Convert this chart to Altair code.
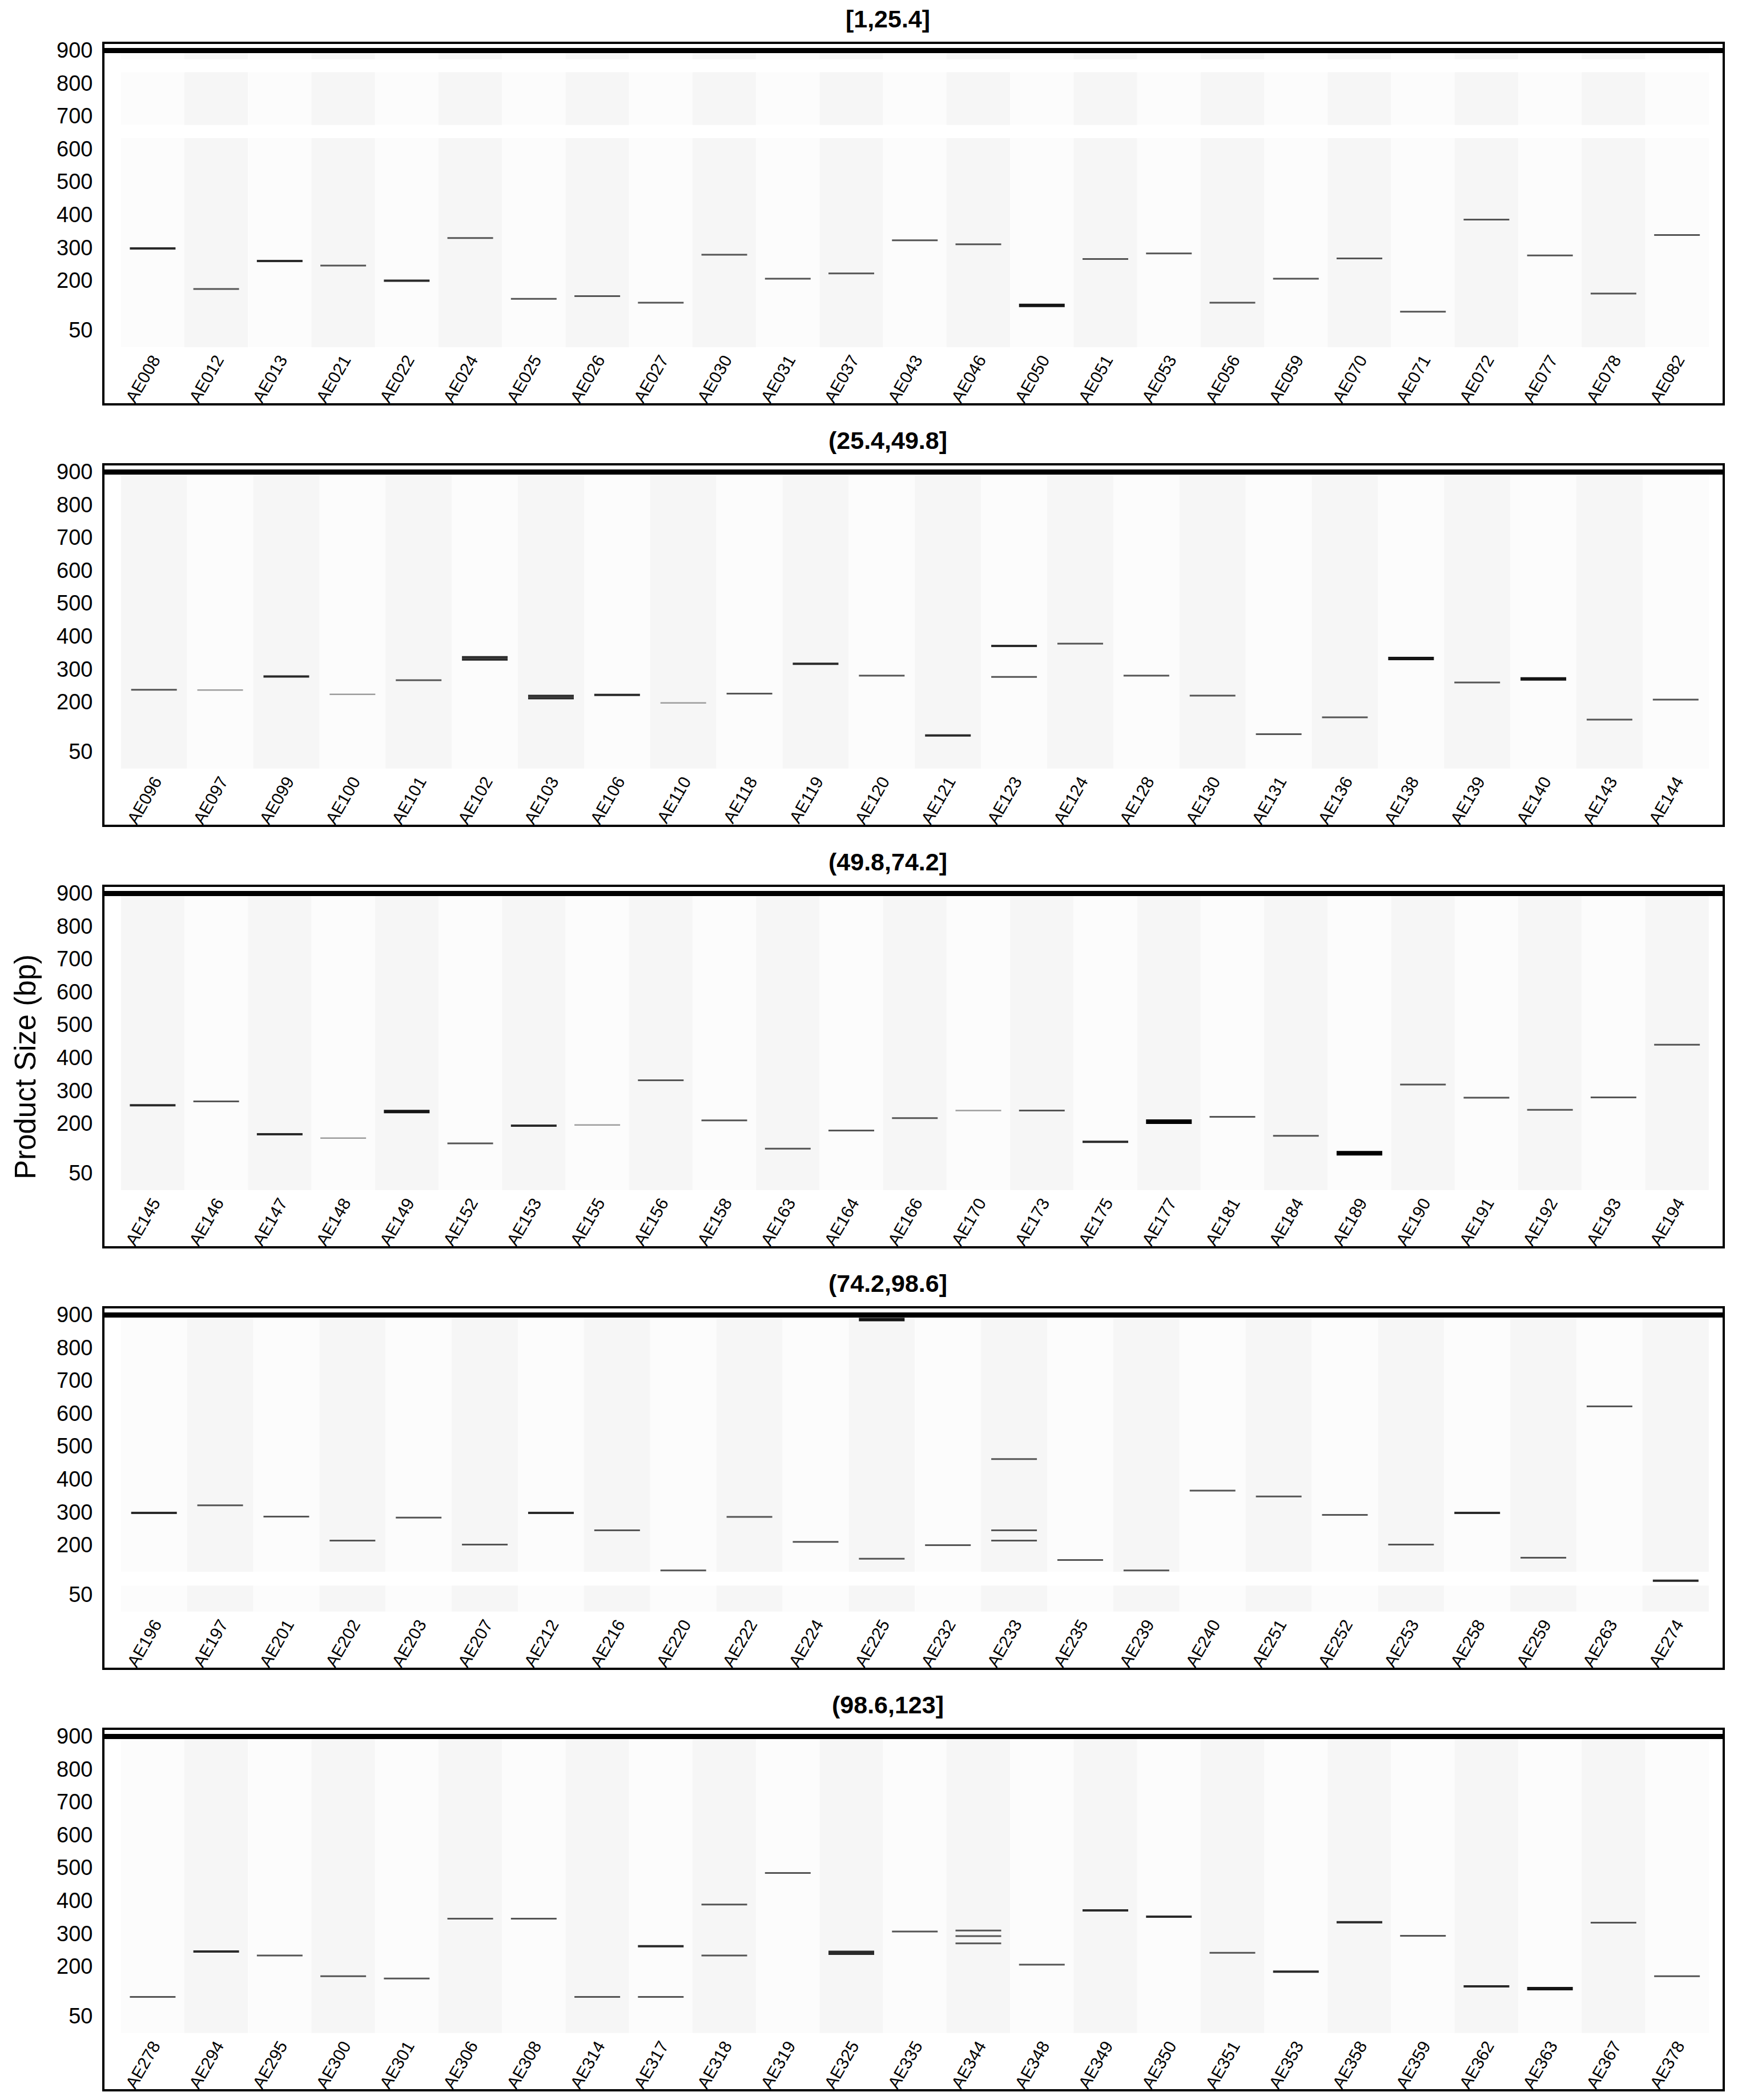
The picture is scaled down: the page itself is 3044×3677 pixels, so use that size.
import altair as alt
import pandas as pd

# ---------------- data ----------------
panel_titles = ["[1,25.4]", "(25.4,49.8]", "(49.8,74.2]", "(74.2,98.6]", "(98.6,123]"]

lanes_1 = ["AE008", "AE012", "AE013", "AE021", "AE022", "AE024", "AE025", "AE026", "AE027", "AE030",
           "AE031", "AE037", "AE043", "AE046", "AE050", "AE051", "AE053", "AE056", "AE059", "AE070",
           "AE071", "AE072", "AE077", "AE078", "AE082"]
size_1 = [[300], [177], [262], [248], [202], [332], [147], [155], [135], [281],
          [208], [224], [325], [313], [127], [268], [285], [135], [208], [270],
          [108], [388], [279], [163], [341]]
level_1 = [[3], [2], [3], [2], [3], [2], [2], [2], [2], [2],
           [2], [2], [2], [2], [4], [2], [2], [2], [2], [2],
           [2], [2], [2], [2], [2]]

lanes_2 = ["AE096", "AE097", "AE099", "AE100", "AE101", "AE102", "AE103", "AE106", "AE110", "AE118",
           "AE119", "AE120", "AE121", "AE123", "AE124", "AE128", "AE130", "AE131", "AE136", "AE138",
           "AE139", "AE140", "AE143", "AE144"]
size_2 = [[240], [239], [280], [226], [269], [339, 332], [221, 214], [224], [200], [228],
          [319], [283], [101], [373, 279], [380], [283], [222], [105], [156], [335],
          [262], [273], [149], [210]]
level_2 = [[2], [1], [3], [1], [2], [3, 3], [3, 3], [3], [1], [2],
           [3], [2], [3], [3, 2], [2], [2], [2], [2], [2], [4],
           [2], [4], [2], [2]]

lanes_3 = ["AE145", "AE146", "AE147", "AE148", "AE149", "AE152", "AE153", "AE155", "AE156", "AE158",
           "AE163", "AE164", "AE166", "AE170", "AE173", "AE175", "AE177", "AE181", "AE184", "AE189",
           "AE190", "AE191", "AE192", "AE193", "AE194"]
size_3 = [[258], [270], [170], [158], [239], [142], [196], [198], [334], [212],
          [126], [181], [219], [242], [242], [147], [208], [223], [165], [112],
          [321], [281], [244], [282], [442]]
level_3 = [[3], [2], [3], [1], [4], [2], [3], [1], [2], [2],
           [2], [2], [2], [1], [2], [3], [5], [2], [2], [5],
           [2], [2], [2], [2], [2]]

lanes_4 = ["AE196", "AE197", "AE201", "AE202", "AE203", "AE207", "AE212", "AE216", "AE220", "AE222",
           "AE224", "AE225", "AE232", "AE233", "AE235", "AE239", "AE240", "AE251", "AE252", "AE253",
           "AE258", "AE259", "AE263", "AE274"]
size_4 = [[300], [323], [289], [216], [286], [204], [300], [247], [125], [288],
          [212], [888, 161], [202], [464, 247, 216], [157], [125], [368], [350], [294], [204],
          [300], [164], [624], [94]]
level_4 = [[3], [2], [2], [2], [2], [2], [3], [2], [2], [2],
           [2], [4, 2], [2], [2, 2, 2], [2], [2], [2], [2], [2], [2],
           [3], [2], [2], [3]]

lanes_5 = ["AE278", "AE294", "AE295", "AE300", "AE301", "AE306", "AE308", "AE314", "AE317", "AE318",
           "AE319", "AE325", "AE335", "AE344", "AE348", "AE349", "AE350", "AE351", "AE353", "AE358",
           "AE359", "AE362", "AE363", "AE367", "AE378"]
size_5 = [[110], [248], [236], [173], [166], [348], [348], [110], [264, 110], [391, 236],
          [487], [247, 241], [309], [312, 295, 273], [208], [373], [354], [244], [187], [337],
          [296], [142], [135], [336], [173]]
level_5 = [[2], [3], [2], [2], [2], [2], [2], [2], [3, 2], [2, 2],
           [2], [3, 3], [2], [2, 2, 2], [2], [3], [3], [2], [3], [3],
           [2], [3], [4], [2], [2]]

# gel image segments (bp ranges where lanes are imaged)
segments_1 = [[875, 894], [676, 836], [0, 636]]
segments_2 = [[0, 894]]
segments_3 = [[0, 894]]
segments_4 = [[0, 79], [121, 894]]
segments_5 = [[0, 894]]

y_ticks = [50, 200, 300, 400, 500, 600, 700, 800, 900]

# ---------------- styling ----------------
FONT = "Liberation Sans"
Y_MIN, Y_MAX = -174, 925.5
PANEL_W, PANEL_H = 2838, 633
LANE_SPAN = 2781
LANE_COLORS = ["#fcfcfc", "#f6f6f6"]
LEVEL_STYLE = {1: ("#9c9c9c", 2.5), 2: ("#555555", 3), 3: ("#2a2a2a", 4),
               4: ("#151515", 6), 5: ("#000000", 8)}

panels = [
    (panel_titles[0], lanes_1, size_1, level_1, segments_1),
    (panel_titles[1], lanes_2, size_2, level_2, segments_2),
    (panel_titles[2], lanes_3, size_3, level_3, segments_3),
    (panel_titles[3], lanes_4, size_4, level_4, segments_4),
    (panel_titles[4], lanes_5, size_5, level_5, segments_5),
]

charts = []
gidx = 0
for p, (title, lanes, sizes, levels, segs) in enumerate(panels):
    n = len(lanes)
    step = LANE_SPAN / n
    bg = pd.DataFrame([{"lane": l, "shade": (gidx + i) % 2, "y0": a, "y1": b}
                       for i, l in enumerate(lanes) for (a, b) in segs])
    bands = pd.DataFrame([{"lane": l, "bp": s, "level": lv}
                          for l, ss, lvs in zip(lanes, sizes, levels)
                          for s, lv in zip(ss, lvs)])
    labels = pd.DataFrame({"lane": lanes})
    gidx += n

    xscale = alt.Scale(domain=lanes, paddingInner=0, paddingOuter=28.5 / step, align=0.54)
    yscale = alt.Scale(domain=[Y_MIN, Y_MAX], nice=False, zero=False)

    axis_kw = dict(values=y_ticks, ticks=False, domain=False, grid=False,
                   labelFontSize=38, labelPadding=19, labelFont=FONT, labelColor="black")
    if p == 2:
        yaxis = alt.Axis(title="Product Size (bp)", titleFontSize=51, titleFontWeight="normal",
                         titlePadding=26, titleFont=FONT, titleColor="black", **axis_kw)
    else:
        yaxis = alt.Axis(title=None, **axis_kw)

    bg_layer = alt.Chart(bg).mark_rect().encode(
        x=alt.X("lane:N", scale=xscale, axis=None, sort=lanes),
        y=alt.Y("y0:Q", scale=yscale, axis=yaxis),
        y2="y1:Q",
        color=alt.Color("shade:N", scale=alt.Scale(domain=[0, 1], range=LANE_COLORS), legend=None),
    )

    top_line = alt.Chart(labels).transform_aggregate(count="count()").transform_calculate(
        top="902").mark_rule(color="black", strokeWidth=9).encode(
        y=alt.Y("top:Q", scale=yscale, axis=yaxis))

    layers = [bg_layer, top_line]
    for lv, (col, th) in LEVEL_STYLE.items():
        layers.append(
            alt.Chart(bands).transform_filter(alt.datum.level == lv).mark_tick(
                orient="horizontal", color=col, thickness=th, size=80, opacity=1).encode(
                x=alt.X("lane:N", scale=xscale, axis=None, sort=lanes),
                y=alt.Y("bp:Q", scale=yscale, axis=yaxis),
            )
        )

    text_layer = alt.Chart(labels).transform_calculate(ly="-30").mark_text(
        angle=300, align="right", baseline="middle", fontSize=30, font=FONT, color="black").encode(
        x=alt.X("lane:N", scale=xscale, axis=None, sort=lanes, bandPosition=0.56),
        y=alt.Y("ly:Q", scale=yscale, axis=yaxis),
        text="lane:N",
    )
    layers.append(text_layer)

    panel = alt.layer(*layers).properties(
        width=PANEL_W, height=PANEL_H,
        title=alt.TitleParams(title, fontSize=43, fontWeight="bold", font=FONT,
                              color="black", offset=14, anchor="middle", dx=-45),
    )
    charts.append(panel)

chart = alt.vconcat(*charts, spacing=36).properties(
    padding={"left": 10, "top": 3, "right": 5, "bottom": 5},
    background="white",
).configure_view(stroke="black", strokeWidth=4)

chart.save("out.html", embed_options={"renderer": "svg", "actions": False})
